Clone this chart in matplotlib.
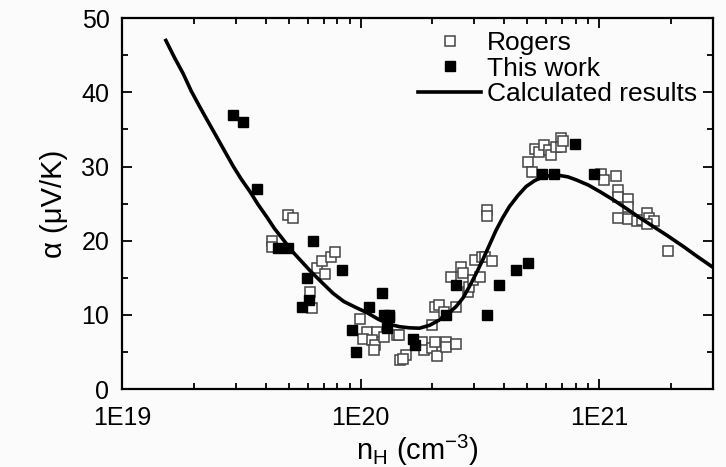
import matplotlib
matplotlib.use("Agg")
import matplotlib.pyplot as plt
from matplotlib.ticker import LogLocator, MultipleLocator, FixedFormatter, FixedLocator, NullFormatter

plt.rcParams['font.family'] = ['Liberation Sans', 'DejaVu Sans']

# calculated curve, log10(n_H) and alpha (uV/K)
calc_logn = [19.184, 19.22, 19.257, 19.29, 19.327, 19.36, 19.397, 19.43, 19.467, 19.50,
             19.537, 19.57, 19.607, 19.64, 19.677, 19.71, 19.747, 19.79, 19.84, 19.885,
             19.93, 19.98, 20.027, 20.075, 20.124, 20.164, 20.205, 20.247, 20.29, 20.33,
             20.365, 20.40, 20.43, 20.456, 20.485, 20.512, 20.54, 20.568, 20.596, 20.624,
             20.66, 20.694, 20.73, 20.764, 20.80, 20.834, 20.87, 20.904, 20.955, 21.004,
             21.06, 21.116, 21.17, 21.228, 21.29, 21.354, 21.41, 21.473, 21.478]
calc_alpha = [47.0, 44.7, 42.5, 40.2, 38.0, 36.1, 34.0, 32.1, 30.0, 28.3,
              26.6, 24.9, 23.2, 21.6, 20.1, 18.7, 17.4, 15.9, 14.3, 12.9,
              11.8, 11.0, 10.3, 9.4, 8.7, 8.4, 8.25, 8.2, 8.6, 9.3,
              10.1, 11.1, 12.3, 13.8, 15.6, 17.4, 19.4, 21.4, 23.1, 24.6,
              26.1, 27.3, 28.1, 28.6, 28.8, 28.8, 28.6, 28.2, 27.5, 26.6,
              25.5, 24.3, 23.1, 21.9, 20.6, 19.2, 17.9, 16.5, 16.4]

# This work (filled squares)
work_logn = [19.467, 19.509, 19.568, 19.655, 19.697, 19.799, 19.775, 19.922, 19.754, 19.782,
             19.964, 19.982, 20.09, 20.037, 20.097, 20.12, 20.11, 20.12, 20.22, 20.23,
             20.40, 20.36, 20.53, 20.58, 20.65, 20.70, 20.76, 20.81, 20.90, 20.98]
work_alpha = [37, 36, 27, 19, 19, 20, 15, 16, 11, 12,
              8, 5, 13, 11, 10, 10, 8.2, 9.7, 6.8, 5.9,
              14, 10, 10, 14, 16, 17, 29, 29, 33, 29]

# Rogers (open squares)
rog_logn = [19.697, 19.715, 19.63, 19.627, 19.816, 19.837, 19.878, 19.892, 19.85, 19.79,
            19.795, 19.996, 20.026, 20.069, 20.012, 20.047, 20.06, 20.057, 20.097, 20.153,
            20.166, 20.16, 20.19, 20.18, 20.257, 20.264, 20.30, 20.313, 20.32, 20.36,
            20.36, 20.40, 20.30, 20.313, 20.33, 20.35, 20.40, 20.38, 20.42, 20.43,
            20.45, 20.456, 20.47, 20.48, 20.50, 20.51, 20.52, 20.55, 20.53, 20.53,
            20.70, 20.72, 20.73, 20.75, 20.77, 20.79, 20.80, 20.82, 20.84, 20.84,
            20.85, 21.01, 21.02, 21.07, 21.08, 21.08, 21.12, 21.12, 21.08, 21.12,
            21.16, 21.18, 21.20, 21.21, 21.23, 21.20, 21.29]
rog_alpha = [23.5, 23.1, 19.9, 19.2, 16.3, 17.2, 17.8, 18.5, 15.5, 13.1,
             10.9, 9.4, 7.7, 7.7, 6.8, 6.6, 5.9, 5.3, 7.0, 7.3,
             3.9, 7.3, 4.6, 4.0, 6.4, 5.3, 5.5, 6.4, 4.4, 6.4,
             5.7, 6.1, 8.6, 11.1, 11.3, 10.4, 11.1, 15.1, 16.5, 15.6,
             13.1, 13.8, 14.7, 17.4, 15.1, 17.8, 17.8, 17.2, 24.1, 23.3,
             30.6, 29.3, 32.4, 32.0, 32.9, 32.2, 31.5, 32.7, 33.9, 32.7,
             33.4, 29.0, 28.2, 28.7, 26.9, 25.9, 25.6, 24.6, 23.1, 22.9,
             22.6, 22.8, 23.7, 23.0, 22.6, 22.2, 18.6]

to_n = lambda v: [10 ** a for a in v]

fig = plt.figure(figsize=(7.26, 4.67), dpi=100)
fig.patch.set_facecolor('#fbfbfb')
ax = fig.add_axes([0.168, 0.167, 0.814, 0.794])
ax.set_facecolor('#fbfbfb')

ax.plot(to_n(rog_logn), rog_alpha, 's', mfc='white', mec='#444444', mew=1.1, ms=7,
        ls='none', label='Rogers')
ax.plot(to_n(work_logn), work_alpha, 's', color='black', ms=7, ls='none', label='This work')
ax.plot(to_n(calc_logn), calc_alpha, '-', color='black', lw=2.6, label='Calculated results')

ax.set_xscale('log')
ax.set_xlim(1e19, 3e21)
ax.set_ylim(0, 50)
ax.xaxis.set_major_locator(FixedLocator([1e19, 1e20, 1e21]))
ax.xaxis.set_major_formatter(FixedFormatter(['1E19', '1E20', '1E21']))
ax.xaxis.set_minor_locator(LogLocator(base=10, subs=range(2, 10)))
ax.xaxis.set_minor_formatter(NullFormatter())
ax.yaxis.set_major_locator(MultipleLocator(10))
ax.yaxis.set_minor_locator(MultipleLocator(5))

ax.tick_params(which='both', direction='in', top=True, right=True, labelsize=18, width=1.3)
ax.tick_params(which='major', length=7)
ax.tick_params(which='minor', length=4)
ax.tick_params(axis='x', which='major', pad=12)
ax.tick_params(axis='y', which='major', pad=9)
for s in ax.spines.values():
    s.set_linewidth(1.6)

ax.set_xlabel(r'n$_\mathregular{H}$ (cm$^\mathregular{-3}$)', fontsize=21, labelpad=2)
ax.set_ylabel('α (μV/K)', fontsize=21, labelpad=10)

ax.legend(loc='upper right', frameon=False, fontsize=19, handlelength=2.4,
          handletextpad=0.2, labelspacing=0.05, borderaxespad=0.1,
          bbox_to_anchor=(0.995, 1.0))

fig.savefig('out.png', dpi=100, facecolor=fig.get_facecolor())
